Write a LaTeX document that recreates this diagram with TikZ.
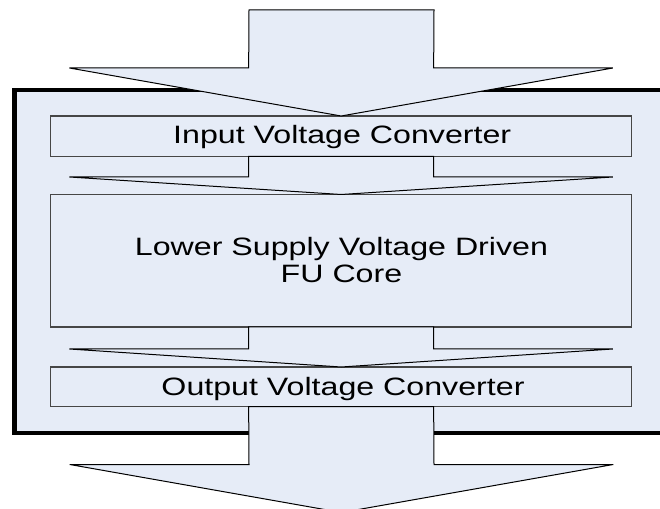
\documentclass[tikz,border=0pt]{standalone}
\usepackage{fontspec}
\setmainfont{Liberation Sans}
\usetikzlibrary{calc}
\definecolor{boxfill}{RGB}{230,236,247}
\definecolor{boxline}{RGB}{70,70,70}
\newcommand\flowarrow[3]{%
  \filldraw[flow] ($(#1)+(-92.5,0)$) -- ($(#2)+(-92.5,-#3)$) -- ($(#2)+(-271.75,-#3)$)
    -- (#2) -- ($(#2)+(271.75,-#3)$) -- ($(#2)+(92.5,-#3)$) -- ($(#1)+(92.5,0)$) -- cycle;}
\begin{document}
\begin{tikzpicture}[x=0.75pt,y=-0.75pt,
  stage/.style={draw=boxline, fill=boxfill, line width=0.8pt, minimum width=436pt,
    inner sep=0pt, outer sep=0pt},
  lbl/.style={inner sep=0pt, font=\fontsize{18.85pt}{20.25pt}\selectfont},
  flow/.style={draw=black, fill=boxfill, line width=0.75pt, line join=miter},
  framebox/.style={draw=black, fill=boxfill, line width=3.4pt}]
\useasboundingbox (0,0) rectangle (660,509);
\clip (0,0) rectangle (660,509);
\fill[white] (0,0) rectangle (660,509);
% outer frame
\draw[framebox] (14.5,90) rectangle (720,433);
% stages
\node[stage, minimum height=30.375pt] (in) at (341.15,136.25) {};
\node[stage, minimum height=99.375pt] (core) at (341.15,260.75) {};
\node[stage, minimum height=29.625pt] (out) at (341.15,386.75) {};
% labels
\node[lbl, anchor=base] (intext) at (342.2,143.3) {\scalebox{1.28}[1]{Input Voltage Converter}};
\node[lbl, align=center] (coretext) at (341.5,260.4) {\scalebox{1.28}[1]{Lower Supply Voltage Driven}\\\scalebox{1.28}[1]{FU Core}};
\node[lbl, anchor=base] (outtext) at (343,395.8) {\scalebox{1.28}[1]{Output Voltage Converter}};
% flow arrows
\coordinate (src) at (341.5,10);
\coordinate (sink) at (341.5,512.5);
\flowarrow{src}{in.north}{48}
\flowarrow{in.south}{core.north}{17.5}
\flowarrow{core.south}{out.north}{18}
\flowarrow{out.south}{sink}{48}
\end{tikzpicture}
\end{document}
